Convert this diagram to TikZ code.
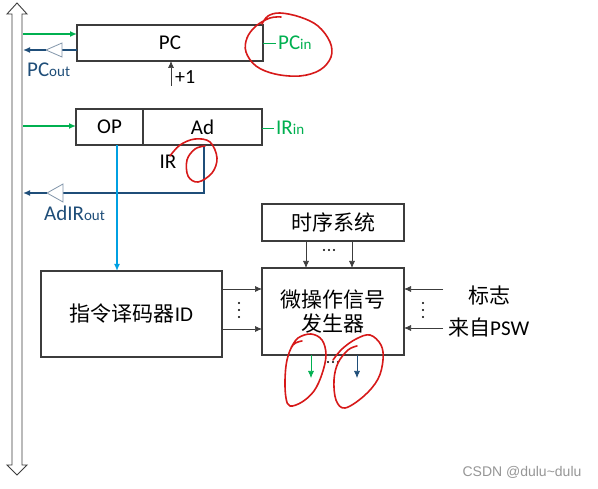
\documentclass[tikz,border=0pt]{standalone}
\usepackage{fontspec}
\setmainfont{Carlito}
\newfontfamily\cjk{Noto Sans CJK SC}
\newfontfamily\wmfont{Liberation Sans}
\usetikzlibrary{arrows.meta,calc}
\definecolor{boxline}{RGB}{60,60,60}
\definecolor{sigreen}{RGB}{0,176,80}
\definecolor{sigblue}{RGB}{31,78,121}
\definecolor{opcyan}{RGB}{0,160,226}
\definecolor{annot}{RGB}{215,25,25}
\definecolor{bufline}{RGB}{130,150,170}
\begin{document}
\begin{tikzpicture}[x=1pt,y=-1pt,
  box/.style={draw=boxline, line width=1.1pt, inner sep=0pt, outer sep=0pt, font=\fontsize{21}{25}\selectfont},
  arr/.style={-{Latex[length=7pt,width=6pt]}, line width=0.7pt, draw=boxline},
  garr/.style={-{Latex[length=7pt,width=6pt]}, line width=1.5pt, draw=sigreen},
  barr/.style={-{Latex[length=7pt,width=6pt]}, line width=1.5pt, draw=sigblue},
  bline/.style={line width=1.5pt, draw=sigblue},
  buf/.style={draw=bufline, fill=white, line width=0.8pt},
  lbl/.style={inner sep=0pt, font=\fontsize{21}{25}\selectfont},
  scrib/.style={draw=annot, line width=1.6pt, line cap=round, line join=round},
  dotmark/.style={fill=black, draw=none}
]
\useasboundingbox[fill=white] (0,0) rectangle (598,489);

% bus
\draw[draw=boxline, fill=white, line width=0.9pt]
  (17,3) -- (27,14) -- (22,14) -- (22,465) -- (27,465) -- (17,475) -- (7,465)
  -- (12,465) -- (12,14) -- (7,14) -- cycle;
\coordinate (busR1) at (23,34);
\coordinate (busR2) at (23,50);
\coordinate (busR3) at (23,126);
\coordinate (busR4) at (23,193);

% PC
\node[box, minimum width=186pt, minimum height=36pt] (pc) at (170,43) {PC};
\draw[garr] (busR1) -- (busR1 -| pc.west);
\coordinate (pcbufT) at (46,50);
\coordinate (pcbufB) at (62,50);
\draw[bline] (pc.west |- pcbufB) -- (pcbufB);
\draw[buf] (pcbufT) -- (62,43) -- (62,57) -- cycle;
\draw[barr] (pcbufT) -- (busR2);
\node[lbl, text=sigblue, anchor=west] (pcout) at (27,70) {PC{\fontsize{15}{17}\selectfont out}};
\coordinate (inc) at (171,86);
\draw[arr] (inc) -- (inc |- pc.south);
\node[lbl, anchor=west, font=\fontsize{20}{22}\selectfont] (plus1) at (175,77) {+1};
\coordinate (pcinL) at (276,43);
\draw[draw=sigreen, line width=0.8pt] (pc.east) -- (pcinL);
\node[lbl, text=sigreen, anchor=west] (pcin) at (278,43) {PC{\fontsize{15}{17}\selectfont in}};

% IR
\node[box, minimum width=67pt, minimum height=36pt] (op) at (109.5,127) {OP};
\node[box, minimum width=119pt, minimum height=36pt] (ad) at (202.5,127) {Ad};
\draw[garr] (busR3) -- (busR3 -| op.west);
\coordinate (irinL) at (274,128);
\draw[draw=sigreen, line width=0.8pt] (ad.east |- irinL) -- (irinL);
\node[lbl, text=sigreen, anchor=west] (irin) at (276,128) {IR{\fontsize{15}{17}\selectfont in}};
\node[lbl] (irlbl) at (168,162) {IR};
\coordinate (adcorner) at (204,193);
\coordinate (irbufT) at (47,193);
\coordinate (irbufB) at (63,193);
\draw[bline] (adcorner |- ad.south) -- (adcorner) -- (irbufB);
\draw[buf] (irbufT) -- (63,184) -- (63,202) -- cycle;
\draw[barr] (irbufT) -- (busR4);
\node[lbl, text=sigblue, anchor=west] (adirout) at (44,213) {AdIR{\fontsize{15}{17}\selectfont out}};

% ID
\node[box, minimum width=181pt, minimum height=86pt] (id) at (131.5,314) {{\cjk 指令译码器}ID};
\coordinate (opx) at (117,0);
\draw[-{Latex[length=7pt,width=6pt]}, draw=opcyan, line width=1.6pt] (opx |- op.south) -- (opx |- id.north);

% timing + micro-op generator
\node[box, minimum width=142pt, minimum height=37pt, font=\cjk\fontsize{21}{25}\selectfont] (tm) at (333,222.5) {时序系统};
\node[box, minimum width=142pt, minimum height=87pt, align=center, font=\cjk\fontsize{21}{25}\selectfont] (mo) at (333,311.5) {微操作信号\\[-1pt]发生器};
\coordinate (t1) at (306,0);
\coordinate (t2) at (352,0);
\draw[arr] (t1 |- tm.south) -- (t1 |- mo.north);
\draw[arr] (t2 |- tm.south) -- (t2 |- mo.north);
\foreach \dx in {324,329,334} \fill[dotmark] (\dx,250) circle (1.2pt);

\coordinate (r1) at (0,289);
\coordinate (r2) at (0,329);
\draw[arr] (id.east |- r1) -- (mo.west |- r1);
\draw[arr] (id.east |- r2) -- (mo.west |- r2);
\foreach \dy in {303,310,317} \fill[dotmark] (239,\dy) circle (1.2pt);

\coordinate (f1) at (443,289);
\coordinate (f2) at (443,328);
\draw[arr] (f1) -- (f1 -| mo.east);
\draw[arr] (f2) -- (f2 -| mo.east);
\foreach \dy in {303,310,317} \fill[dotmark] (423,\dy) circle (1.2pt);
\node[lbl, font=\cjk\fontsize{21}{25}\selectfont] (flag) at (489,296) {标志};
\node[lbl, anchor=west] (psw) at (448,328) {{\cjk 来自}PSW};

\coordinate (o1) at (311,378);
\coordinate (o2) at (357,378);
\draw[-{Latex[length=7pt,width=6pt]}, draw=sigreen, line width=0.7pt] (o1 |- mo.south) -- (o1);
\draw[-{Latex[length=7pt,width=6pt]}, draw=sigblue, line width=0.7pt] (o2 |- mo.south) -- (o2);
\foreach \dx in {328,333,338} \fill[dotmark] (\dx,362) circle (1.2pt);

% red annotations
\draw[scrib] plot[smooth, tension=0.6] coordinates {(262,24) (268,16) (280,13) (300,17) (318,26) (330,42) (331,57) (320,70) (300,76) (275,74) (256,66) (246,52) (247,38) (256,26) (270,18) (281,17)};
\draw[scrib] plot[smooth, tension=0.6] coordinates {(170,156) (180,145) (195,139) (210,142) (217,158) (212,173) (198,182) (188,176) (187,160) (195,149) (205,146)};
\draw[scrib] plot[smooth, tension=0.6] coordinates {(302,341) (293,345) (287,360) (285,380) (286,398) (290,406) (302,402) (314,391) (322,374) (326,355) (322,340) (311,334) (298,338) (291,348)};
\draw[scrib] plot[smooth, tension=0.6] coordinates {(333,360) (342,349) (356,339) (370,335) (381,345) (383,360) (378,379) (364,396) (345,408) (336,400) (334,380) (338,363) (348,350) (357,346)};

% watermark
\node[inner sep=0pt, text={rgb,255:red,150;green,150;blue,150}, font=\wmfont\fontsize{14}{16}\selectfont] (wm) at (522,472) {CSDN @dulu\textasciitilde dulu};
\end{tikzpicture}
\end{document}
